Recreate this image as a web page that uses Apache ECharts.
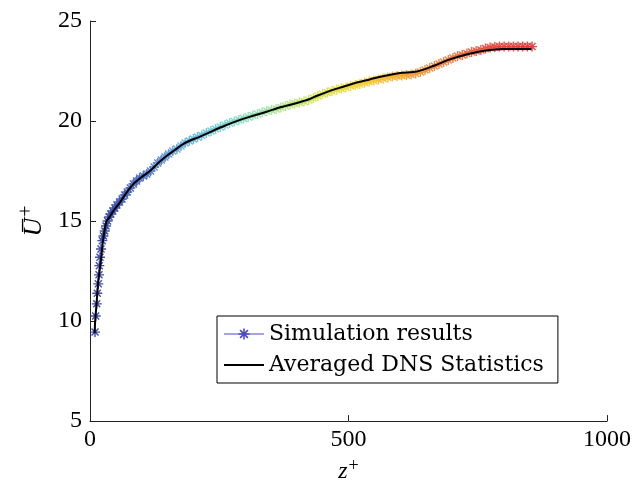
<!DOCTYPE html>
<html>
<head>
<meta charset="utf-8">
<script src="https://cdn.jsdelivr.net/npm/echarts@6/dist/echarts.min.js"></script>
<style>
  html, body { margin: 0; padding: 0; background: #fff; }
  #chart { width: 634px; height: 489px; }
</style>
</head>
<body>
<div id="chart"></div>
<script>
// simulation results (z+, mean U+)
var simZ = [9.7, 11, 13, 14.1, 16, 17.4, 18, 19.3, 21.3, 23.8,
  26, 28.5, 31, 34, 37, 40, 44, 48, 52, 57, 62, 67, 72, 78, 84, 90, 96,
  103, 110, 117, 124, 131, 138, 145, 152, 160, 168, 176, 184, 192, 200,
  208, 216, 225, 234, 243, 252, 261, 270, 279, 288, 297, 306, 315, 324,
  333, 342, 351, 360, 369, 378, 387, 396, 405, 414, 423, 432, 441, 450,
  459, 468, 477, 486, 495, 504, 513, 522, 531, 540, 549, 558, 567, 576,
  585, 594, 603, 612, 621, 630, 639, 648, 657, 666, 675, 684, 693, 702,
  711, 720, 729, 738, 747, 756, 765, 774, 783, 792, 801, 810, 819, 828,
  837, 846, 855];
var simU = [9.45, 10.25, 10.86, 11.39, 11.86, 12.31, 12.77, 13.19, 13.6, 14.02,
  14.25, 14.5, 14.75, 15.0, 15.2, 15.35, 15.5, 15.65, 15.8, 15.95, 16.1, 16.3, 16.45, 16.65, 16.85, 17.0, 17.15,
  17.25, 17.35, 17.5, 17.7, 17.9, 18.05, 18.2, 18.35, 18.5, 18.6, 18.75, 18.9, 19.0, 19.1,
  19.2, 19.28, 19.4, 19.5, 19.6, 19.7, 19.8, 19.9, 19.98, 20.05, 20.12, 20.2, 20.28, 20.35,
  20.42, 20.5, 20.55, 20.6, 20.68, 20.75, 20.82, 20.88, 20.92, 20.98, 21.05, 21.15, 21.25, 21.35,
  21.42, 21.5, 21.57, 21.62, 21.68, 21.75, 21.8, 21.85, 21.92, 21.98, 22.03, 22.08, 22.13, 22.18,
  22.22, 22.25, 22.28, 22.3, 22.33, 22.38, 22.45, 22.55, 22.65, 22.75, 22.85, 22.95, 23.05, 23.15,
  23.25, 23.3, 23.38, 23.45, 23.5, 23.55, 23.62, 23.68, 23.7, 23.72, 23.72, 23.72, 23.72, 23.72,
  23.72, 23.72, 23.72];

// averaged DNS statistics
var dnsZ = [9, 10, 11.5, 13, 14.5, 16, 18.5, 21, 23, 25, 28, 32, 38, 45, 58, 70, 84,
  100, 116, 132, 148, 164, 180, 196, 213, 230, 245, 262, 277, 293, 310, 340, 370,
  400, 413, 425, 438, 460, 484, 520, 541, 555, 600, 632, 664, 696, 728, 760, 774, 800, 830, 854];
var dnsU = [9.4, 10.0, 10.5, 11.0, 11.5, 12.0, 12.5, 13.0, 13.5, 14.0, 14.5, 15.0, 15.2, 15.5, 15.93, 16.4, 16.85,
  17.2, 17.5, 17.9, 18.25, 18.55, 18.85, 19.05, 19.22, 19.42, 19.6, 19.78, 19.93, 20.08, 20.22, 20.45, 20.7,
  20.9, 21.0, 21.1, 21.25, 21.47, 21.67, 21.95, 22.08, 22.18, 22.4, 22.48, 22.75, 23.08, 23.33, 23.5, 23.55, 23.6, 23.6, 23.6];

var xTicks = [0, 500, 1000];
var yTicks = [5, 10, 15, 20, 25];

var simData = simZ.map(function (z, i) { return [z, simU[i]]; });
var dnsData = dnsZ.map(function (z, i) { return [z, dnsU[i]]; });

// asterisk marker (four thin bars)
var star = 'path://M-0.7,-5L0.7,-5L0.7,5L-0.7,5Z' +
  'M-5,-0.7L5,-0.7L5,0.7L-5,0.7Z' +
  'M-3,-4L4,3L3,4L-4,-3Z' +
  'M4,-3L-3,4L-4,3L3,-4Z';

var serif = 'Liberation Serif';

var chart = echarts.init(document.getElementById('chart'));
chart.setOption({
  animation: false,
  backgroundColor: '#fff',
  grid: { left: 90, right: 27, top: 21, bottom: 67 },
  xAxis: {
    type: 'value', min: xTicks[0], max: xTicks[xTicks.length - 1], interval: 500,
    axisLine: { lineStyle: { color: '#222', width: 1 } },
    axisTick: { inside: true, length: 6, lineStyle: { color: '#222' } },
    splitLine: { show: false },
    axisLabel: { color: '#000', fontFamily: serif, fontSize: 24, margin: 7,
      formatter: function (v) { return String(v); } },
    name: '{i|z}{s|+}', nameLocation: 'middle', nameGap: 31,
    nameTextStyle: {
      rich: {
        i: { fontFamily: serif, fontStyle: 'italic', fontSize: 24, color: '#000' },
        s: { fontFamily: serif, fontSize: 18, color: '#000', padding: [0, 0, 12, 1] }
      }
    }
  },
  yAxis: {
    type: 'value', min: yTicks[0], max: yTicks[yTicks.length - 1], interval: 5,
    axisLine: { lineStyle: { color: '#222', width: 1 } },
    axisTick: { inside: true, length: 6, lineStyle: { color: '#222' } },
    splitLine: { show: false },
    axisLabel: { color: '#000', fontFamily: serif, fontSize: 24, margin: 8 },
    name: '{i|U\u0305}{s|+}', nameLocation: 'middle', nameGap: 38,
    nameTextStyle: {
      rich: {
        i: { fontFamily: serif, fontStyle: 'italic', fontSize: 26, color: '#000' },
        s: { fontFamily: serif, fontSize: 20, color: '#000', padding: [0, 0, 14, 1] }
      }
    }
  },
  visualMap: {
    type: 'continuous', show: false, dimension: 0, seriesIndex: 0,
    min: 10, max: 855,
    inRange: {
      color: ['#2b3a9c', '#3f63c2', '#5fa8e0', '#6fd3cf', '#9fe29c', '#cde34a',
              '#f5d327', '#f5a82e', '#ee7a35', '#e5473a', '#dc3535']
    }
  },
  legend: {
    orient: 'vertical', left: 217, top: 316,
    padding: [7, 14, 7, 6], itemGap: 9,
    itemWidth: 40, itemHeight: 14,
    borderColor: '#000', borderWidth: 1, backgroundColor: '#fff',
    textStyle: { fontFamily: 'DejaVu Serif', fontSize: 22, color: '#000' },
    data: [
      { name: 'Simulation results', itemStyle: { color: '#4b4bc0', opacity: 1 },
        lineStyle: { color: '#4b4bc0', width: 1, opacity: 1 } },
      { name: 'Averaged DNS Statistics', itemStyle: { opacity: 0 },
        lineStyle: { color: '#000', width: 2, opacity: 1 } }
    ]
  },
  series: [
    {
      name: 'Simulation results', type: 'line', data: simData,
      symbol: star, symbolSize: 10, showSymbol: true,
      lineStyle: { opacity: 0 },
      itemStyle: { opacity: 0.9 },
      z: 2
    },
    {
      name: 'Averaged DNS Statistics', type: 'line', data: dnsData,
      symbol: 'none', smooth: 0.3,
      lineStyle: { color: '#000', width: 2 },
      itemStyle: { color: '#000' },
      z: 3
    }
  ]
});
</script>
</body>
</html>
